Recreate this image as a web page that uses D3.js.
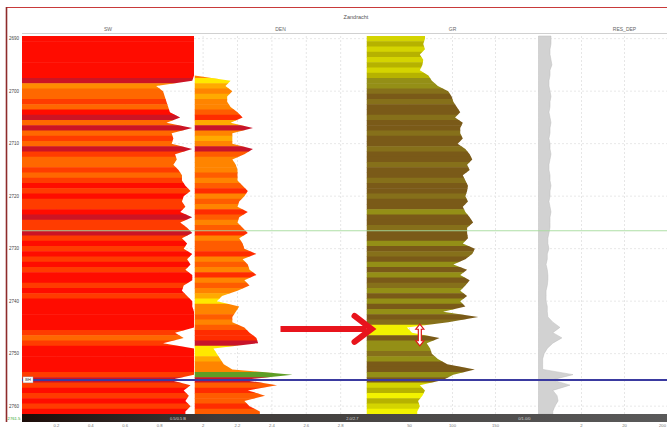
<!DOCTYPE html>
<html>
<head>
<meta charset="utf-8">
<script src="https://cdn.jsdelivr.net/npm/d3@7/dist/d3.min.js"></script>
<style>
  body { margin: 0; background: #fff; }
  svg { display: block; font-family: "Liberation Sans", "DejaVu Sans", sans-serif; }
</style>
</head>
<body>
<svg id="chart" width="667" height="428"></svg>
<script>
// depth samples (m), one per metre
let depths = [
    2690, 2691, 2692, 2693, 2694, 2695, 2696, 2697, 2698, 2699,
    2700, 2701, 2702, 2703, 2704, 2705, 2706, 2707, 2708, 2709,
    2710, 2711, 2712, 2713, 2714, 2715, 2716, 2717, 2718, 2719,
    2720, 2721, 2722, 2723, 2724, 2725, 2726, 2727, 2728, 2729,
    2730, 2731, 2732, 2733, 2734, 2735, 2736, 2737, 2738, 2739,
    2740, 2741, 2742, 2743, 2744, 2745, 2746, 2747, 2748, 2749,
    2750, 2751, 2752, 2753, 2754, 2755, 2756, 2757, 2758, 2759,
    2760, 2761
];

// SW (fraction)
let sw = [
    1.00, 1.00, 1.00, 1.00, 1.00, 1.00, 1.00, 1.00, 0.99, 0.78,
    0.82, 0.83, 0.84, 0.85, 0.86, 0.92, 0.84, 0.99, 0.87, 0.88,
    0.87, 0.99, 0.89, 0.90, 0.88, 0.91, 0.93, 0.93, 0.95, 0.98,
    0.94, 0.93, 0.95, 0.92, 0.99, 0.92, 0.96, 0.99, 0.93, 0.96,
    0.94, 0.99, 0.96, 0.98, 0.95, 0.99, 0.99, 0.94, 0.93, 0.96,
    0.99, 0.99, 1.00, 1.00, 1.00, 1.00, 0.89, 0.94, 0.82, 1.00,
    1.00, 1.00, 1.00, 1.00, 1.00, 0.86, 0.98, 0.94, 0.97, 0.95,
    0.98, 0.95
];
let swCode = [
    1, 1, 1, 1, 1, 1, 1, 1, 0, 4,
    3, 3, 2, 3, 1, 0, 3, 0, 3, 2,
    3, 0, 2, 3, 3, 2, 3, 2, 1, 2,
    1, 2, 2, 1, 0, 2, 2, 0, 2, 1,
    2, 1, 2, 1, 2, 1, 1, 2, 1, 2,
    1, 1, 1, 1, 1, 1, 2, 3, 2, 1,
    1, 1, 1, 1, 2, 0, 2, 1, 2, 1,
    2, 1
];

// DEN (g/cc)
let den = [
    1.95, 1.95, 1.95, 1.95, 1.95, 1.95, 1.95, 1.95, 2.16, 2.13,
    2.17, 2.14, 2.14, 2.16, 2.20, 2.23, 2.16, 2.29, 2.17, 2.17,
    2.17, 2.29, 2.24, 2.17, 2.19, 2.20, 2.20, 2.20, 2.23, 2.26,
    2.24, 2.21, 2.20, 2.26, 2.21, 2.20, 2.23, 2.26, 2.21, 2.23,
    2.24, 2.31, 2.23, 2.26, 2.27, 2.31, 2.24, 2.27, 2.20, 2.11,
    2.08, 2.21, 2.19, 2.17, 2.17, 2.24, 2.27, 2.31, 2.32, 2.06,
    2.08, 2.10, 2.12, 2.17, 2.52, 2.23, 2.43, 2.26, 2.36, 2.24,
    2.27, 2.33
];
let denCode = [
    3, 3, 3, 3, 3, 3, 3, 3, 5, 4,
    3, 4, 3, 3, 2, 1, 4, 0, 3, 4,
    3, 0, 2, 3, 3, 3, 2, 3, 2, 1,
    3, 2, 3, 1, 2, 3, 2, 1, 3, 2,
    2, 1, 3, 2, 3, 1, 3, 2, 3, 4,
    5, 3, 3, 2, 3, 2, 1, 1, 0, 5,
    5, 4, 3, 3, 6, 0, 2, 1, 2, 2,
    1, 2
];

// GR (API)
let gr = [
    68, 66, 68, 62, 66, 65, 62, 72, 76, 83,
    95, 99, 101, 105, 109, 103, 112, 109, 109, 112,
    106, 115, 120, 123, 117, 120, 112, 115, 118, 117,
    115, 118, 112, 115, 120, 124, 117, 117, 118, 112,
    126, 123, 115, 101, 117, 109, 120, 115, 109, 117,
    109, 115, 89, 130, 95, 47, 53, 85, 70, 74,
    76, 83, 94, 126, 101, 89, 62, 68, 65, 60,
    62, 59
];
let grCode = [
    4, 3, 4, 3, 4, 3, 4, 3, 2, 2,
    1, 0, 1, 0, 0, 1, 0, 0, 1, 0,
    0, 1, 0, 0, 1, 0, 0, 1, 0, 0,
    1, 0, 0, 2, 0, 0, 1, 0, 0, 2,
    0, 1, 0, 2, 0, 2, 0, 1, 2, 0,
    2, 0, 2, 0, 1, 5, 5, 0, 2, 2,
    1, 2, 0, 0, 2, 0, 4, 3, 5, 3,
    4, 5
];

// RES_DEP (ohm.m)
let res = [
    0.39, 0.39, 0.37, 0.37, 0.39, 0.41, 0.37, 0.37, 0.35, 0.35,
    0.37, 0.39, 0.37, 0.37, 0.35, 0.37, 0.39, 0.37, 0.37, 0.35,
    0.37, 0.37, 0.39, 0.37, 0.35, 0.35, 0.37, 0.37, 0.39, 0.37,
    0.37, 0.35, 0.37, 0.39, 0.37, 0.37, 0.37, 0.35, 0.33, 0.33,
    0.35, 0.32, 0.32, 0.30, 0.32, 0.33, 0.33, 0.32, 0.30, 0.30,
    0.30, 0.32, 0.32, 0.33, 0.43, 0.63, 0.43, 0.70, 0.43, 0.32,
    0.27, 0.25, 0.25, 0.25, 1.27, 0.41, 1.08, 0.43, 0.54, 0.57,
    0.48, 0.43
];

let depthTicks = [2690, 2700, 2710, 2720, 2730, 2740, 2750, 2760];
let swTicks = [0.2, 0.4, 0.6, 0.8];
let denTicks = [2.0, 2.2, 2.4, 2.6, 2.8];
let grTicks = [50, 100, 150];
let resTicks = [2, 20, 200];
let scaleNotes = ["0.5/0.5 B", "2.0/2.7", "0/1.0/0"];

let swPalette = ["#cc1424", "#ff0c00", "#ff3c00", "#ff6800", "#ff8c00"];
let denPalette = ["#c8142a", "#ff2c00", "#ff5c00", "#ff8400", "#ffaa00", "#ffe800", "#5e9e26"];
let grPalette = ["#7a5a18", "#86701a", "#948f16", "#b6b200", "#d4d400", "#f2f200"];

let wellName = "Zandracht";
let topMarker = {name: "BH", depth: 2755};
let contactDepth = 2726.6;

let svg = d3.select("#chart");
let W = 667, H = 428;

let plotTop = 36, plotBottom = 414;
let trackW = 172;

let y = d3.scaleLinear().domain([2689.5, 2761.5]).range([plotTop, plotBottom]);

let xSw = d3.scaleLinear().domain([0, 1]).range([22, 22 + trackW]);
let xDen = d3.scaleLinear().domain([1.95, 2.95]).range([194.5, 194.5 + trackW]);
let xGr = d3.scaleLinear().domain([0, 200]).range([366.5, 366.5 + trackW]);
let xRes = d3.scaleLog().domain([0.2, 2000]).range([538.5, 538.5 + trackW]);

let tracks = [
    {name: "SW", x: xSw, values: sw, codes: swCode, palette: swPalette, ticks: swTicks},
    {name: "DEN", x: xDen, values: den, codes: denCode, palette: denPalette, ticks: denTicks},
    {name: "GR", x: xGr, values: gr, codes: grCode, palette: grPalette, ticks: grTicks},
    {name: "RES_DEP", x: xRes, values: res, codes: null, palette: null, ticks: resTicks}
];

let defs = svg.append("defs");

// background
svg.append("rect").attr("width", W).attr("height", H).attr("fill", "#fff");

// title and frame
svg.append("line").attr("x1", 6).attr("x2", W).attr("y1", 7.5).attr("y2", 7.5)
    .attr("stroke", "#c83a3a").attr("stroke-width", 1);
svg.append("line").attr("x1", 6.5).attr("x2", 6.5).attr("y1", 7).attr("y2", 422)
    .attr("stroke", "#8e2b2b").attr("stroke-width", 1.6);
svg.append("text").attr("x", 356).attr("y", 19).attr("text-anchor", "middle")
    .attr("font-size", 5.5).attr("fill", "#555").text(wellName);

svg.append("line").attr("x1", 22).attr("x2", W).attr("y1", 33.5).attr("y2", 33.5)
    .attr("stroke", "#d0d0d0");

// depth gridlines
svg.selectAll(".hgrid")
    .data(depthTicks)
    .enter()
    .append("line")
    .attr("x1", 22).attr("x2", W)
    .attr("y1", function (d) { return y(d); })
    .attr("y2", function (d) { return y(d); })
    .attr("stroke", "#e8e8e8").attr("stroke-dasharray", "2,2");

let tickFmt = d3.format("~g");

tracks.forEach(function (t, k) {
    let x0 = t.x.range()[0];
    let cx = x0 + trackW / 2;

    // header
    svg.append("text").attr("x", cx).attr("y", 30.5).attr("text-anchor", "middle")
        .attr("font-size", 5).attr("fill", "#666").text(t.name);

    // vertical gridlines
    svg.selectAll(".vg" + k)
        .data(t.ticks)
        .enter()
        .append("line")
        .attr("x1", function (d) { return t.x(d); })
        .attr("x2", function (d) { return t.x(d); })
        .attr("y1", plotTop).attr("y2", plotBottom)
        .attr("stroke", "#e6e6e6").attr("stroke-dasharray", "2,2");

    // curve area (padded half a sample at both ends)
    let pts = depths.map(function (d, i) { return {d: d, v: t.values[i]}; });
    pts.unshift({d: depths[0] - 0.5, v: t.values[0]});
    pts.push({d: depths[depths.length - 1] + 0.5, v: t.values[t.values.length - 1]});

    let area = d3.area()
        .x0(x0)
        .x1(function (p) { return t.x(p.v); })
        .y(function (p) { return y(p.d); });

    if (t.codes) {
        defs.append("clipPath").attr("id", "clip" + k)
            .append("path").attr("d", area(pts));

        let bandH = y(1) - y(0);
        svg.append("g").attr("clip-path", "url(#clip" + k + ")")
            .selectAll("rect")
            .data(depths)
            .enter()
            .append("rect")
            .attr("x", x0)
            .attr("y", function (d) { return y(d - 0.5); })
            .attr("width", trackW)
            .attr("height", bandH + 0.5)
            .attr("fill", function (d, i) { return t.palette[t.codes[i]]; });
    } else {
        svg.append("path").attr("d", area(pts))
            .attr("fill", "#d2d2d2").attr("stroke", "#bdbdbd").attr("stroke-width", 0.5);
    }

    // tick values below the scale bar
    svg.selectAll(".tl" + k)
        .data(t.ticks)
        .enter()
        .append("text")
        .attr("x", function (d) { return Math.min(t.x(d), W - 1); })
        .attr("y", 426.5)
        .attr("text-anchor", function (d) { return t.x(d) > W - 6 ? "end" : "middle"; })
        .attr("font-size", 4.2).attr("fill", "#777")
        .text(function (d) { return tickFmt(d); });
});

// depth labels
svg.selectAll(".dl")
    .data(depthTicks)
    .enter()
    .append("text")
    .attr("x", 14)
    .attr("y", function (d) { return y(d) + 1.5; })
    .attr("text-anchor", "middle")
    .attr("font-size", 4.5).attr("fill", "#444")
    .text(function (d) { return d; });

// contact line
svg.append("line").attr("x1", 22).attr("x2", W)
    .attr("y1", y(contactDepth)).attr("y2", y(contactDepth))
    .attr("stroke", "#a6dc9c").attr("stroke-width", 1.1).attr("opacity", 0.9);

// formation top
let yt = y(topMarker.depth);
svg.append("line").attr("x1", 22).attr("x2", W).attr("y1", yt).attr("y2", yt)
    .attr("stroke", "#3a3aa0").attr("stroke-width", 2);
svg.append("rect").attr("x", 23).attr("y", yt - 3).attr("width", 10).attr("height", 6)
    .attr("fill", "#fff").attr("stroke", "#999").attr("stroke-width", 0.4);
svg.append("text").attr("x", 28).attr("y", yt + 1.5).attr("text-anchor", "middle")
    .attr("font-size", 4).attr("fill", "#333").text(topMarker.name);

// bottom scale bar
let grad = defs.append("linearGradient").attr("id", "barGrad")
    .attr("x1", "0%").attr("x2", "100%");
grad.append("stop").attr("offset", "0%").attr("stop-color", "#1c0c08");
grad.append("stop").attr("offset", "30%").attr("stop-color", "#3e3a38");
grad.append("stop").attr("offset", "100%").attr("stop-color", "#5a5a5a");
svg.append("rect").attr("x", 22).attr("y", plotBottom).attr("width", W - 22).attr("height", 8)
    .attr("fill", "url(#barGrad)");
svg.selectAll(".note")
    .data(scaleNotes)
    .enter()
    .append("text")
    .attr("x", function (d, i) { return tracks[i].x.range()[1] - 8; })
    .attr("y", plotBottom + 5.5)
    .attr("text-anchor", "end")
    .attr("font-size", 4).attr("fill", "#d8d8d8")
    .text(function (d) { return d; });
svg.append("text").attr("x", 14).attr("y", plotBottom + 5.5).attr("text-anchor", "middle")
    .attr("font-size", 4.2).attr("fill", "#2fa82f").text(y.domain()[1]);

// red arrow pointing at the bright GR zone
let ya = y(2745.3);
let tipX = xGr.range()[0] + 5;
svg.append("line").attr("x1", xDen(2.45)).attr("x2", tipX - 5).attr("y1", ya).attr("y2", ya)
    .attr("stroke", "#e8141c").attr("stroke-width", 6);
svg.append("path")
    .attr("d", "M" + (tipX - 17) + "," + (ya - 13) + "L" + tipX + "," + ya + "L" + (tipX - 17) + "," + (ya + 13))
    .attr("fill", "none").attr("stroke", "#e8141c").attr("stroke-width", 6)
    .attr("stroke-linecap", "round").attr("stroke-linejoin", "miter");

// thickness marker
let xm = xGr(62), y1 = y(2744.4), y2 = y(2748.5);
let dbl = [[xm, y1], [xm + 4, y1 + 5], [xm + 1.5, y1 + 5], [xm + 1.5, y2 - 5], [xm + 4, y2 - 5],
    [xm, y2], [xm - 4, y2 - 5], [xm - 1.5, y2 - 5], [xm - 1.5, y1 + 5], [xm - 4, y1 + 5]];
svg.append("path").attr("d", "M" + dbl.join("L") + "Z")
    .attr("fill", "#fff").attr("stroke", "#e01818").attr("stroke-width", 1.2);
</script>
</body>
</html>
